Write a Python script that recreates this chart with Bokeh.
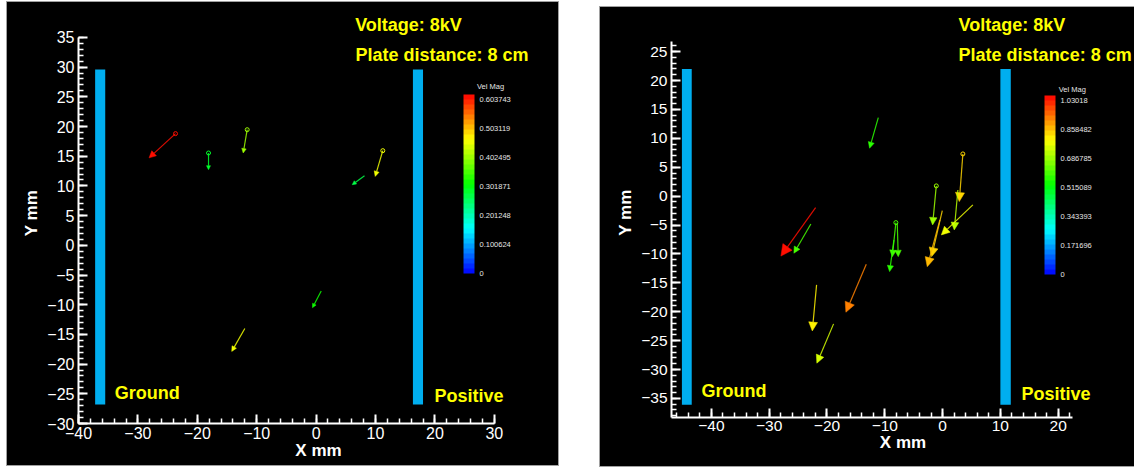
import math
from bokeh.plotting import figure
from bokeh.models import (ColumnDataSource, Arrow, NormalHead, Label, ColorBar,
                          LinearColorMapper, FixedTicker, SingleIntervalTicker, Spacer)
from bokeh.layouts import row, column
from bokeh.core.properties import field
from bokeh.embed import file_html
from bokeh.resources import INLINE

# ---------------- data ----------------
# Left panel: particle positions (mm) and velocity components
left_x = [-23.67, -18.11, -11.60, 11.23, 8.15, 0.86, -12.00]
left_y = [18.80, 15.54, 19.46, 15.93, 11.72, -7.70, -14.00]
left_u = [-0.445, 0.000, -0.067, -0.128, -0.207, -0.147, -0.220]
left_v = [-0.408, -0.281, -0.392, -0.433, -0.152, -0.280, -0.386]
left_marked = [0, 1, 2, 3]
left_vmax = 0.603743
left_cb_labels = ["0", "0.100624", "0.201248", "0.301871", "0.402495", "0.503119", "0.603743"]

# Right panel
right_x = [-11.12, -21.97, -22.79, -21.80, -18.86, -13.20, -8.08, -7.84, -8.42,
           -1.09, 3.51, 2.65, 5.24, -0.05, -0.47]
right_y = [13.58, -2.00, -4.81, -15.36, -22.10, -11.78, -4.58, -4.69, -7.58,
           1.77, 7.30, 1.07, -1.52, -2.51, -4.12]
right_u = [-0.151, -0.600, -0.294, -0.074, -0.289, -0.353, -0.062, 0.017, -0.075,
           -0.064, -0.062, -0.063, -0.546, -0.185, -0.218]
right_v = [-0.529, -0.8375, -0.507, -0.796, -0.680, -0.831, -0.589, -0.578, -0.548,
           -0.675, -0.825, -0.692, -0.519, -0.796, -0.808]
right_marked = [6, 9, 10]
right_vmax = 1.03018
right_cb_labels = ["0", "0.171696", "0.343393", "0.515089", "0.686785", "0.858482", "1.03018"]

x_axis_title = "X mm"
y_axis_title = "Y mm"
voltage_text = "Voltage: 8kV"
distance_text = "Plate distance: 8 cm"
ground_text = "Ground"
positive_text = "Positive"
colorbar_title = "Vel Mag"

# ---------------- style ----------------
ARROW_SCALE = 10.0       # mm per unit of velocity
N_LEVELS = 36
PLATE = "#00aeef"
YELLOW = "#ffff00"
FONT = "Liberation Sans"


def small_rainbow(n):
    stops = [(0, 0, 255), (0, 255, 255), (0, 255, 0), (255, 255, 0), (255, 0, 0)]
    out = []
    for i in range(n):
        t = (i + 0.5) / n * 4
        k = min(int(t), 3)
        f = t - k
        c = [round(stops[k][j] + (stops[k + 1][j] - stops[k][j]) * f) for j in range(3)]
        out.append("#%02x%02x%02x" % tuple(c))
    return out


PALETTE = small_rainbow(N_LEVELS)


def make_panel(width, height, ppm, x0, y0, bl, bb, xbounds, ybounds,
               xs, ys, us, vs, marked, vmax, cb_labels, cb_loc,
               plates, texts, vm_pos, tick_size):
    fw = width - bl
    fh = height - bb
    p = figure(width=width, height=height,
               x_range=(x0, x0 + fw / ppm), y_range=(y0, y0 + fh / ppm),
               output_backend="svg", toolbar_location=None,
               min_border_left=bl, min_border_bottom=bb,
               min_border_top=0, min_border_right=0,
               background_fill_color="black", border_fill_color=None)
    p.outline_line_color = None
    p.grid.visible = False
    p.styles = {"background-color": "black", "outline": "1px solid #a0a0a0"}

    xa = p.xaxis[0]
    ya = p.yaxis[0]
    xa.ticker = SingleIntervalTicker(interval=10, num_minor_ticks=5)
    ya.ticker = SingleIntervalTicker(interval=5, num_minor_ticks=5)
    xa.bounds = (float(xbounds[0]), float(xbounds[1]))
    ya.bounds = (float(ybounds[0]), float(ybounds[1]))
    for ax in (xa, ya):
        ax.axis_line_color = "white"
        ax.axis_line_width = 2
        ax.major_tick_line_color = "white"
        ax.major_tick_line_width = 2
        ax.minor_tick_line_color = "white"
        ax.minor_tick_line_width = 1.5
        ax.major_tick_in = 9
        ax.major_tick_out = 0
        ax.minor_tick_in = 5
        ax.minor_tick_out = 0
        ax.major_label_text_color = "white"
        ax.major_label_text_font = FONT
        ax.major_label_text_font_size = tick_size
        ax.axis_label_text_color = "white"
        ax.axis_label_text_font = FONT
        ax.axis_label_text_font_style = "bold"
        ax.axis_label_text_font_size = "17px"
    xa.axis_label = x_axis_title
    ya.axis_label = y_axis_title
    xa.major_label_standoff = 3
    xa.axis_label_standoff = -1
    ya.major_label_standoff = 4
    ya.axis_label_standoff = 3

    # electrode plates
    for (l, r, b, t) in plates:
        p.quad(left=[l], right=[r], bottom=[b], top=[t], fill_color=PLATE,
               line_color=None)

    # velocity vectors
    mags = [math.hypot(u, v) for u, v in zip(us, vs)]
    cols = [PALETTE[min(int(m / vmax * N_LEVELS), N_LEVELS - 1)] for m in mags]
    src = ColumnDataSource(dict(
        x0=xs, y0=ys,
        x1=[x + ARROW_SCALE * u for x, u in zip(xs, us)],
        y1=[y + ARROW_SCALE * v for y, v in zip(ys, vs)],
        color=cols,
        hs=[max(4.0, 0.19 * ARROW_SCALE * m * ppm) for m in mags],
    ))
    p.add_layout(Arrow(end=NormalHead(size=field("hs"), fill_color=field("color"),
                                      line_color=field("color"), line_width=0.5),
                       x_start=field("x0"), y_start=field("y0"),
                       x_end=field("x1"), y_end=field("y1"),
                       line_color=field("color"), line_width=1.2, line_alpha=0.85,
                       source=src))
    p.scatter(x=[xs[i] for i in marked], y=[ys[i] for i in marked],
              marker="circle", size=4, fill_color=None,
              line_color=[cols[i] for i in marked], line_width=1)

    # annotations
    for (tx, ty, txt) in texts:
        p.add_layout(Label(x=tx, y=ty, text=txt, text_font=FONT,
                           text_font_style="bold", text_font_size="18px",
                           text_color=YELLOW, text_baseline="middle",
                           text_align="left"))

    # colour bar
    mapper = LinearColorMapper(palette=PALETTE, low=0, high=vmax * 1.028)
    ticks = [float(s) for s in cb_labels]
    overrides = {}
    for t, s in zip(ticks, cb_labels):
        overrides[t] = s
        overrides[str(t)] = s
    cb = ColorBar(color_mapper=mapper, ticker=FixedTicker(ticks=ticks),
                  major_label_overrides=overrides,
                  major_label_text_font=FONT, major_label_text_font_size="7.5px",
                  major_label_text_color="#e6e6e6", label_standoff=5,
                  width=11, height=179, padding=0, location=cb_loc,
                  background_fill_alpha=0, bar_line_color=None,
                  major_tick_line_color=None, minor_tick_line_color=None,
                  border_line_color=None)
    p.add_layout(cb)
    p.add_layout(Label(x=vm_pos[0], y=vm_pos[1], text=colorbar_title,
                       text_font=FONT, text_font_size="7.5px",
                       text_color="#e6e6e6", text_align="center",
                       text_baseline="middle"))
    return p


p1 = make_panel(551, 463, 5.94, -40.0, -30.0, 71, 42, (-40, 30), (-30, 35),
                left_x, left_y, left_u, left_v, left_marked, left_vmax,
                left_cb_labels, (385, 150),
                [(-37.2, -35.5, -26.8, 29.6), (16.3, 18.0, -26.8, 29.6)],
                [(6.57, 37.14, voltage_text), (6.63, 32.09, distance_text),
                 (-33.89, -24.87, ground_text), (19.93, -25.32, positive_text)],
                (29.36, 26.75), "16px")

p2 = make_panel(534, 459, 5.78, -46.9, -38.3, 71, 49, (-46.9, 22.5), (-38.3, 26.7),
                right_x, right_y, right_u, right_v, right_marked, right_vmax,
                right_cb_labels, (373, 143),
                [(-45.1, -43.4, -36.1, 22.0), (10.0, 11.8, -36.1, 22.0)],
                [(2.77, 29.62, voltage_text), (2.77, 24.43, distance_text),
                 (-41.7, -33.7, ground_text), (13.67, -34.27, positive_text)],
                (22.44, 18.37), "15.5px")

layout = row(Spacer(width=7, height=10),
             column(Spacer(width=10, height=2), p1),
             Spacer(width=42, height=10),
             column(Spacer(width=10, height=7), p2))

open("out.html", "w").write(file_html(layout, INLINE))
